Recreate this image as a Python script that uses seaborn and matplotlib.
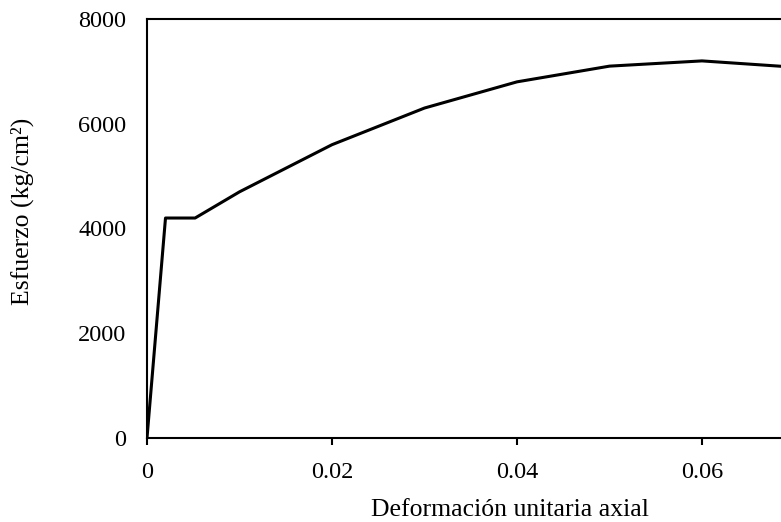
import matplotlib
matplotlib.use("Agg")
import matplotlib.pyplot as plt
import pandas as pd
import seaborn as sns

# strain / stress
deformacion = [0.0, 0.002, 0.0052, 0.01, 0.02, 0.03, 0.04, 0.05, 0.06, 0.07]
esfuerzo = [0, 4200, 4200, 4700, 5600, 6300, 6800, 7100, 7200, 7080]

x_ticks = [0, 0.02, 0.04, 0.06]
x_tick_labels = ["0", "0.02", "0.04", "0.06"]
y_ticks = [0, 2000, 4000, 6000, 8000]

sns.set_style("white")
plt.rcParams["font.family"] = ["Liberation Serif", "DejaVu Serif"]
plt.rcParams["text.color"] = "black"
plt.rcParams["xtick.color"] = "black"
plt.rcParams["ytick.color"] = "black"
plt.rcParams["axes.labelcolor"] = "black"

df = pd.DataFrame({"deformacion": deformacion, "esfuerzo": esfuerzo})

fig = plt.figure(figsize=(7.81, 5.22), dpi=100)
ax = fig.add_axes([147 / 781, 1 - 438 / 522, 634 / 781, (438 - 19) / 522])

sns.lineplot(data=df, x="deformacion", y="esfuerzo", sort=False,
             color="black", linewidth=2.2, ax=ax)

ax.set_xlim(0, 634 / 9250)
ax.set_ylim(0, 8000)
ax.set_xticks(x_ticks)
ax.set_xticklabels(x_tick_labels)
ax.set_yticks(y_ticks)

for side in ["left", "bottom", "top"]:
    ax.spines[side].set_color("black")
    ax.spines[side].set_linewidth(1.5)
ax.spines["right"].set_visible(False)

ax.tick_params(axis="x", direction="out", length=5, width=1.5, pad=12,
               labelsize=17.5, bottom=True)
ax.tick_params(axis="y", length=0, pad=15, labelsize=17.5)

ax.set_xlabel("Deformación unitaria axial", fontsize=18.5)
ax.set_ylabel("Esfuerzo (kg/cm²)", fontsize=18.5)
ax.xaxis.set_label_coords((510 - 147) / 634, (438 - 510) / 419)
ax.yaxis.set_label_coords((22 - 147) / 634, (438 - 211) / 419)
ax.xaxis.label.set_va("center")
ax.yaxis.label.set_va("center")

fig.savefig("out.png", dpi=100)
